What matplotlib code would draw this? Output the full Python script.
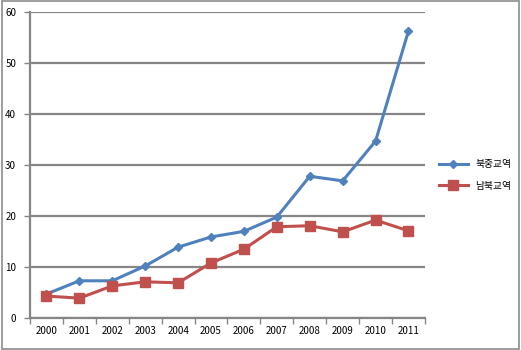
import matplotlib.pyplot as plt
from matplotlib.patches import Rectangle

plt.rcParams['font.family'] = ['Noto Sans CJK KR', 'DejaVu Sans']

# Data
years = ['2000', '2001', '2002', '2003', '2004', '2005',
         '2006', '2007', '2008', '2009', '2010', '2011']
nk_china = [4.7, 7.3, 7.3, 10.2, 13.9, 15.9, 17.0, 19.8, 27.8, 26.9, 34.7, 56.3]
inter_korea = [4.3, 3.9, 6.3, 7.1, 6.9, 10.8, 13.5, 17.9, 18.1, 16.9, 19.2, 17.1]
labels = ['북중교역', '남북교역']
y_ticks = [0, 10, 20, 30, 40, 50, 60]

grid_c = '#868686'

fig = plt.figure(figsize=(5.21, 3.5), dpi=100)
fig.patches.append(Rectangle((0.004, 0.004), 0.992, 0.992, transform=fig.transFigure,
                             fill=False, edgecolor='#8c8c8c', lw=1.2))
ax = fig.add_axes([0.0576, 0.0914, 0.758, 0.874])

x = list(range(len(years)))
ax.plot(x, nk_china, color='#4F81BD', lw=2.2, marker='D', ms=4.5, label=labels[0], zorder=3)
ax.plot(x, inter_korea, color='#C0504D', lw=2.2, marker='s', ms=6.5, label=labels[1], zorder=3)

ax.set_xlim(-0.5, len(years) - 0.5)
ax.set_ylim(0, 60)
ax.set_yticks(y_ticks)
ax.set_yticklabels([str(v) for v in y_ticks], fontsize=7)
ax.set_xticks(x)
ax.set_xticklabels(years, fontsize=7)
ax.set_xticks([i - 0.5 for i in range(len(years) + 1)], minor=True)
ax.tick_params(axis='x', which='major', length=0, pad=6)
ax.tick_params(axis='x', which='minor', length=4, color=grid_c, width=1)
ax.tick_params(axis='y', length=4, color=grid_c, width=1, pad=6)

ax.yaxis.grid(True, color=grid_c, lw=1.6)
ax.set_axisbelow(True)
for s in ['top', 'right']:
    ax.spines[s].set_visible(False)
ax.spines['left'].set_color(grid_c)
ax.spines['left'].set_linewidth(1.6)
ax.spines['bottom'].set_color(grid_c)
ax.spines['bottom'].set_linewidth(1.6)

fig.legend(loc='center left', bbox_to_anchor=(0.825, 0.50), frameon=False,
           fontsize=7, handlelength=3, labelspacing=1.2)

fig.savefig('out.png', dpi=100)
